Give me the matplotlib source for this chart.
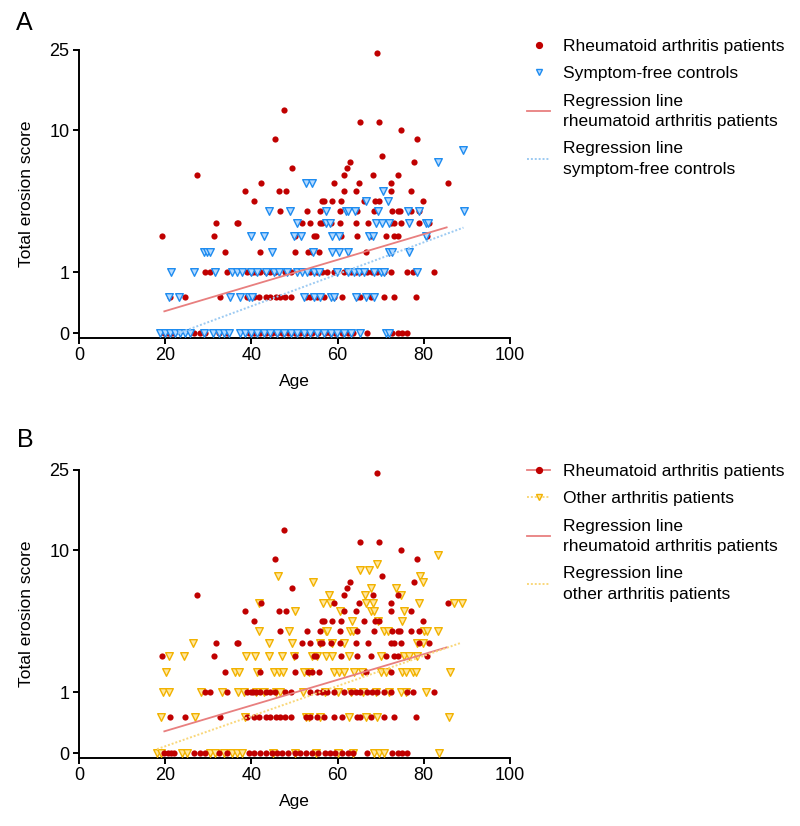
import numpy as np
import matplotlib
matplotlib.use("Agg")
import matplotlib.pyplot as plt
from matplotlib.lines import Line2D

plt.rcParams['font.family'] = ['Liberation Sans', 'DejaVu Sans']

# ---------------- data ----------------
# Rheumatoid arthritis patients: score level -> ages
RA_LEVELS = [23, 11.5, 10, 9, 8, 6.5, 6, 5.5, 5, 4.5, 4, 3.5, 3, 2.5, 2, 1.5, 1, 0.5, 0]
RA_AGES = [
    [69.1],
    [47.5],
    [65.3, 69.6],
    [74.8],
    [45.4, 78.5],
    [70.2],
    [62.9, 77.7],
    [49.5, 62.1],
    [27.4, 61.6, 68.1, 74.1],
    [42.3, 59.1, 65.0, 72.5, 85.6],
    [38.4, 46.4, 48.1, 61.6, 64.2, 72.5, 77.1],
    [40.7, 56.4, 56.8, 58.8, 60.7, 66.1, 68.6, 69.6, 79.7],
    [46.7, 53.0, 56.0, 60.5, 64.6, 68.4, 72.6, 73.9, 74.5, 77.0, 78.9],
    [31.8, 36.6, 37.0, 51.7, 53.6, 56.0, 56.4, 58.4, 60.5, 64.2, 67.1, 72.3, 73.1, 74.7, 78.8, 81.2],
    [19.2, 31.3, 50.0, 54.5, 55.1, 60.7, 64.6, 67.7, 71.2, 73.1, 73.9, 80.7],
    [33.9, 41.9, 50.2, 53.1, 54.1, 55.7, 66.7, 72.3],
    [29.2, 30.5, 34.3, 39.0, 39.8, 40.4, 41.0, 42.1, 43.3, 44.4, 45.5, 47.9, 49.1, 53.7, 55.3,
     56.4, 57.6, 59.1, 61.5, 63.0, 64.2, 65.3, 66.9, 68.0, 69.2, 70.7, 72.3, 76.2, 77.4, 82.3],
    [21.0, 24.5, 32.6, 39.0, 40.5, 41.7, 43.3, 44.4, 45.6, 46.7, 47.9, 49.1, 52.6, 53.7, 55.3,
     56.8, 59.1, 61.1, 64.6, 65.3, 67.7, 70.8, 73.1, 78.1],
    [19.8, 20.6, 21.3, 22.1, 26.6, 28.0, 29.3, 32.5, 34.3, 39.4, 40.5, 42.0, 43.5, 44.8, 46.0,
     47.2, 48.5, 50.0, 51.3, 52.6, 54.0, 55.5, 57.0, 58.2, 59.5, 61.0, 62.5, 63.5, 66.9, 72.7,
     73.9, 75.0, 76.2],
]

# Symptom-free controls
SF_LEVELS = [7, 6, 4.5, 4, 3.5, 3, 2.5, 2, 1.5, 1, 0.5, 0]
SF_AGES = [
    [89.0],
    [83.4],
    [52.6, 54.1],
    [70.6],
    [66.5, 71.8],
    [44.0, 49.0, 57.4, 61.9, 62.3, 64.0, 69.4, 76.4, 78.8, 89.4],
    [50.5, 57.3, 58.2, 68.8, 70.4, 71.9, 76.6, 80.5, 81.0],
    [39.9, 43.0, 49.8, 51.4, 58.8, 60.3, 67.3, 68.1, 80.5],
    [28.9, 29.7, 30.5, 44.8, 54.4, 58.8, 60.3, 62.5, 71.9, 72.7, 76.6],
    [21.3, 26.6, 31.6, 35.5, 36.7, 37.8, 39.8, 41.3, 43.3, 45.2, 46.3, 48.3, 50.6, 51.8, 53.0,
     54.5, 55.7, 59.9, 62.3, 63.8, 65.0, 66.1, 68.4, 70.0, 70.8, 78.5],
    [20.8, 23.1, 35.1, 37.3, 39.4, 40.2, 52.2, 54.5, 56.0, 58.4, 59.1, 64.2, 66.5, 68.4],
    [18.8, 20.0, 21.2, 22.3, 23.5, 24.7, 25.8, 28.9, 31.2, 32.4, 33.6, 34.7, 37.4, 38.6, 39.8,
     41.3, 42.9, 44.4, 46.0, 47.5, 49.1, 50.6, 52.2, 53.7, 55.3, 56.8, 58.4, 59.9, 61.5, 63.0,
     65.3, 71.2, 71.9],
]

# Other arthritis patients
OA_LEVELS = [8.5, 7.5, 7, 6.5, 6, 5.5, 5, 4.5, 4, 3.5, 3, 2.5, 2, 1.5, 1, 0.5, 0]
OA_AGES = [
    [83.4],
    [69.2],
    [65.2, 67.4],
    [46.1, 79.1],
    [54.3, 79.7],
    [67.7, 73.6],
    [58.0, 66.3, 74.7],
    [41.8, 56.6, 58.2, 66.5, 68.1, 78.9, 87.0, 88.8],
    [50.2, 60.5, 67.7, 68.4, 75.4],
    [63.4, 69.4, 75.0],
    [41.7, 48.7, 57.2, 57.6, 62.9, 63.6, 70.8, 71.6, 80.1, 80.8, 83.2],
    [26.4, 44.0, 49.5, 56.0, 58.8, 61.5, 78.5, 79.7],
    [20.9, 24.4, 38.8, 40.9, 44.0, 47.1, 49.8, 54.1, 55.3, 57.2, 58.8, 62.6, 70.0, 75.4, 76.6, 78.5],
    [20.2, 36.1, 37.2, 41.3, 45.2, 46.4, 47.3, 52.2, 53.3, 59.1, 60.3, 61.5, 63.8, 65.7, 70.0,
     71.2, 75.0, 75.8, 77.4, 78.1, 86.1],
    [19.6, 20.8, 28.4, 33.2, 36.8, 38.2, 41.0, 43.0, 45.6, 46.7, 52.0, 57.0, 60.0, 63.0, 66.0,
     69.0, 72.0, 74.7, 75.8, 80.5],
    [19.1, 26.8, 38.6, 52.6, 53.3, 56.0, 62.6, 66.5, 69.2, 85.9],
    [18.1, 19.1, 23.9, 25.0, 30.5, 31.5, 33.6, 35.5, 36.7, 37.8, 45.0, 50.0, 55.0, 60.0, 63.5,
     68.4, 69.6, 70.8, 83.6],
]

# regression lines in log10(score + 1) space: intercept, slope, age start, age end
REG_RA = [-0.017, 0.00631, 19.8, 85.3]
REG_SF = [-0.181, 0.00786, 23.0, 89.2]
REG_OA = [-0.114, 0.00742, 18.1, 88.4]

X_TICKS = [0, 20, 40, 60, 80, 100]
Y_TICK_POS = [0, 1, 9, 23.8]
Y_TICK_LABELS = ['0', '1', '10', '25']

LABEL_RA = 'Rheumatoid arthritis patients'
LABEL_SF = 'Symptom-free controls'
LABEL_OA = 'Other arthritis patients'
LABEL_REG_RA = 'Regression line\nrheumatoid arthritis patients'
LABEL_REG_SF = 'Regression line\nsymptom-free controls'
LABEL_REG_OA = 'Regression line\nother arthritis patients'

# ---------------- styles ----------------
RED = '#C00000'
PINK = '#E87F7F'
BLUE_EDGE = '#1E8CF0'
BLUE_FACE = '#B5DAFF'
BLUE_LINE = '#9CCAF2'
YEL_EDGE = '#F2B200'
YEL_FACE = '#FFE7A0'
YEL_LINE = '#F9D77A'


def flatten(levels, ages_by_level):
    xs, ys = [], []
    for lv, ages in zip(levels, ages_by_level):
        xs.extend(ages)
        ys.extend([lv] * len(ages))
    return np.array(xs), np.array(ys)


def fwd(v):
    return np.log10(np.clip(np.asarray(v, dtype=float) + 1.0, 1e-9, None))


def inv(t):
    return 10.0 ** np.asarray(t, dtype=float) - 1.0


def reg_line(coef):
    a, b, x0, x1 = coef
    xs = np.linspace(x0, x1, 60)
    return xs, inv(a + b * xs)


ra_x, ra_y = flatten(RA_LEVELS, RA_AGES)
sf_x, sf_y = flatten(SF_LEVELS, SF_AGES)
oa_x, oa_y = flatten(OA_LEVELS, OA_AGES)

fig = plt.figure(figsize=(8, 8.26), dpi=100)

W, H = 800.0, 826.0
FS = 12.5


def make_axes(top_px, bottom_px):
    ax = fig.add_axes([79 / W, 1 - bottom_px / H, (510 - 79) / W, (bottom_px - top_px) / H])
    ax.set_yscale('function', functions=(fwd, inv))
    ax.set_xlim(0, 100)
    ax.set_ylim(-0.047, Y_TICK_POS[-1])
    ax.set_xticks(X_TICKS)
    ax.set_yticks(Y_TICK_POS)
    ax.set_yticklabels(Y_TICK_LABELS)
    ax.yaxis.set_minor_locator(matplotlib.ticker.NullLocator())
    for s in ['top', 'right']:
        ax.spines[s].set_visible(False)
    for s in ['left', 'bottom']:
        ax.spines[s].set_linewidth(1.4)
    ax.tick_params(direction='out', length=4, width=1.4, labelsize=13, pad=3)
    ax.set_xlabel('Age', fontsize=FS, labelpad=7)
    ax.set_ylabel('Total erosion score', fontsize=FS, labelpad=11)
    return ax


def legend(handles, labels, top_px):
    leg = fig.legend(handles, labels, loc='upper left',
                     bbox_to_anchor=(527 / W, 1 - top_px / H),
                     frameon=False, fontsize=FS, handlelength=1.35, handletextpad=0.75,
                     labelspacing=0.7, borderpad=0, borderaxespad=0)
    for t in leg.get_texts():
        t.set_linespacing(1.45)
    return leg


# ---------------- panel A ----------------
axA = make_axes(50, 337.5)
axA.scatter(ra_x, ra_y, s=20, marker='o', color=RED, linewidths=0, zorder=3, clip_on=False)
axA.scatter(sf_x, sf_y, s=30, marker='v', facecolor=BLUE_FACE, edgecolor=BLUE_EDGE,
            linewidths=1.0, zorder=3, clip_on=False)
x, y = reg_line(REG_RA)
axA.plot(x, y, color=PINK, lw=1.3, zorder=4)
x, y = reg_line(REG_SF)
axA.plot(x, y, color=BLUE_LINE, lw=1.4, ls=(0, (1, 1)), zorder=4)

hA = [Line2D([], [], ls='none', marker='o', ms=4.2, color=RED, mec=RED),
      Line2D([], [], ls='none', marker='v', ms=5, mfc=BLUE_FACE, mec=BLUE_EDGE, mew=1.0),
      Line2D([], [], color=PINK, lw=1.3),
      Line2D([], [], color=BLUE_LINE, lw=1.4, ls=(0, (1, 1)))]
legend(hA, [LABEL_RA, LABEL_SF, LABEL_REG_RA, LABEL_REG_SF], 39)

# ---------------- panel B ----------------
axB = make_axes(470, 757.5)
axB.scatter(oa_x, oa_y, s=30, marker='v', facecolor=YEL_FACE, edgecolor=YEL_EDGE,
            linewidths=1.0, zorder=3, clip_on=False)
axB.scatter(ra_x, ra_y, s=20, marker='o', color=RED, linewidths=0, zorder=3, clip_on=False)
x, y = reg_line(REG_RA)
axB.plot(x, y, color=PINK, lw=1.3, zorder=4)
x, y = reg_line(REG_OA)
axB.plot(x, y, color=YEL_LINE, lw=1.4, ls=(0, (1, 1)), zorder=4)

hB = [Line2D([], [], color=PINK, lw=1.3, marker='o', ms=4.2, mfc=RED, mec=RED),
      Line2D([], [], color=YEL_LINE, lw=1.4, ls=(0, (1, 1)), marker='v', ms=5,
             mfc=YEL_FACE, mec=YEL_EDGE, mew=1.0),
      Line2D([], [], color=PINK, lw=1.3),
      Line2D([], [], color=YEL_LINE, lw=1.4, ls=(0, (1, 1)))]
legend(hB, [LABEL_RA, LABEL_OA, LABEL_REG_RA, LABEL_REG_OA], 464)

fig.text(24 / W, 1 - 23 / H, 'A', fontsize=18, ha='center', va='center')
fig.text(25 / W, 1 - 440 / H, 'B', fontsize=18, ha='center', va='center')

fig.savefig('out.png', dpi=100)
